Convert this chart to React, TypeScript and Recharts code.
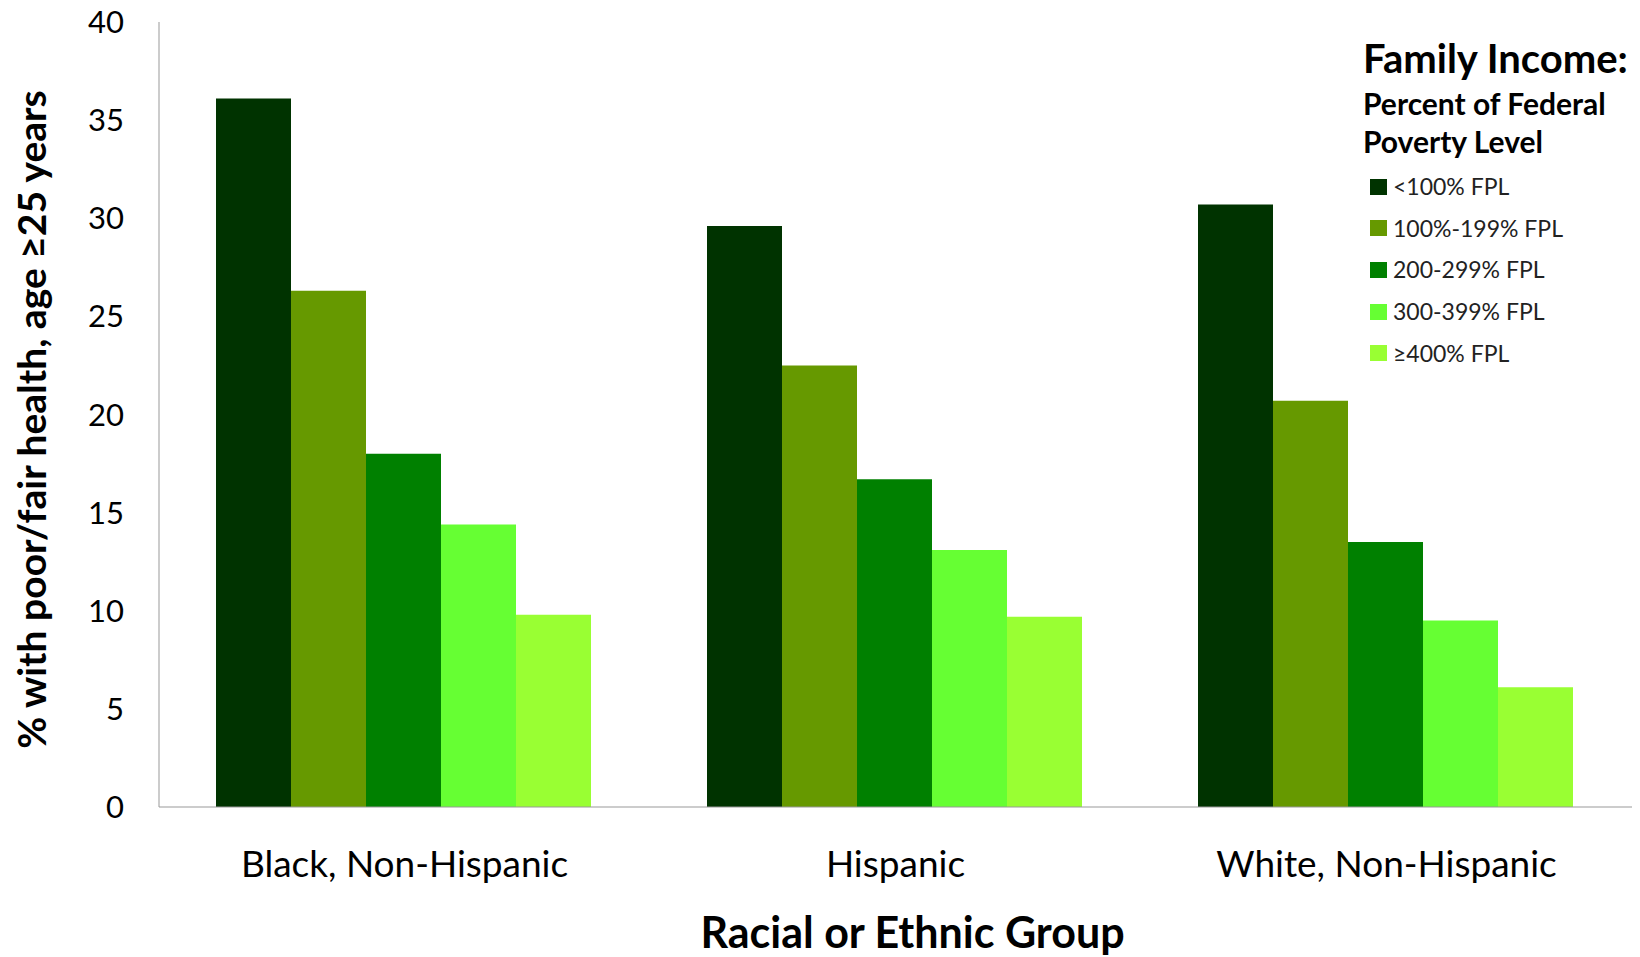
import React from "react";
import { BarChart, Bar, XAxis, YAxis, Label } from "recharts";

const groups = ["Black, Non-Hispanic", "Hispanic", "White, Non-Hispanic"];
const incomeLevels = ["<100% FPL", "100%-199% FPL", "200-299% FPL", "300-399% FPL", "≥400% FPL"];
const levelKeys = ["fpl100", "fpl199", "fpl299", "fpl399", "fpl400"];
const levelColors = ["#003300", "#669900", "#008000", "#66FF33", "#99FF33"];

const below100 = [36.1, 29.6, 30.7];
const from100to199 = [26.3, 22.5, 20.7];
const from200to299 = [18.0, 16.7, 13.5];
const from300to399 = [14.4, 13.1, 9.5];
const over400 = [9.8, 9.7, 6.1];

const yTicks = [0, 5, 10, 15, 20, 25, 30, 35, 40];

const seriesValues = [below100, from100to199, from200to299, from300to399, over400];

const data = groups.map((g, i) => {
  const row: Record<string, string | number> = { group: g };
  levelKeys.forEach((k, j) => {
    row[k] = seriesValues[j][i];
  });
  return row;
});

const FONT = "Lato, 'Open Sans', sans-serif";

// legend drawn as an overlay so it does not shrink the plot
function IncomeLegend() {
  return (
    <div style={{ position: "absolute", left: 1363, top: 38, fontFamily: FONT, color: "#000", lineHeight: 1 }}>
      <div style={{ fontSize: 40, fontWeight: 700, marginBottom: 6 }}>Family Income:</div>
      <div style={{ fontSize: 30, fontWeight: 700, lineHeight: "38px" }}>Percent of Federal</div>
      <div style={{ fontSize: 30, fontWeight: 700, lineHeight: "38px", marginBottom: 6 }}>Poverty Level</div>
      {incomeLevels.map((lvl, i) => (
        <div key={lvl} style={{ display: "flex", alignItems: "center", height: 41.6, paddingLeft: 7 }}>
          <span style={{ width: 17, height: 16, background: levelColors[i], marginRight: 6, display: "inline-block" }} />
          <span style={{ fontSize: 23, color: "#222" }}>{lvl}</span>
        </div>
      ))}
    </div>
  );
}

export default function App() {
  return (
    <div style={{ position: "relative", width: 1640, height: 957, background: "#fff" }}>
      <style>{`body{margin:0}`}</style>
      <BarChart
        width={1640}
        height={957}
        data={data}
        margin={{ top: 22, right: 8, bottom: 0, left: 0 }}
        barCategoryGap={57}
        barGap={0}
      >
        <XAxis
          dataKey="group"
          height={150}
          stroke="#999"
          tickLine={false}
          tickSize={0}
          tickMargin={44}
          tick={{ fill: "#000", fontSize: 37, fontFamily: FONT }}
        >
          <Label
            value="Racial or Ethnic Group"
            position="insideBottom"
            offset={9}
            dx={17}
            style={{ fill: "#000", fontSize: 43, fontWeight: 700, fontFamily: FONT }}
          />
        </XAxis>
        <YAxis
          width={159}
          domain={[0, 40]}
          ticks={yTicks}
          interval={0}
          stroke="#999"
          tickLine={false}
          tickSize={0}
          tickMargin={35}
          tick={{ fill: "#000", fontSize: 31, fontFamily: FONT }}
        >
          <Label
            value="% with poor/fair health, age ≥25 years"
            angle={-90}
            position="insideLeft"
            offset={32}
            dy={5}
            style={{ textAnchor: "middle", fill: "#000", fontSize: 39, fontWeight: 700, fontFamily: FONT }}
          />
        </YAxis>
        {levelKeys.map((k, i) => (
          <Bar key={k} dataKey={k} name={incomeLevels[i]} fill={levelColors[i]} isAnimationActive={false} />
        ))}
      </BarChart>
      <IncomeLegend />
    </div>
  );
}
